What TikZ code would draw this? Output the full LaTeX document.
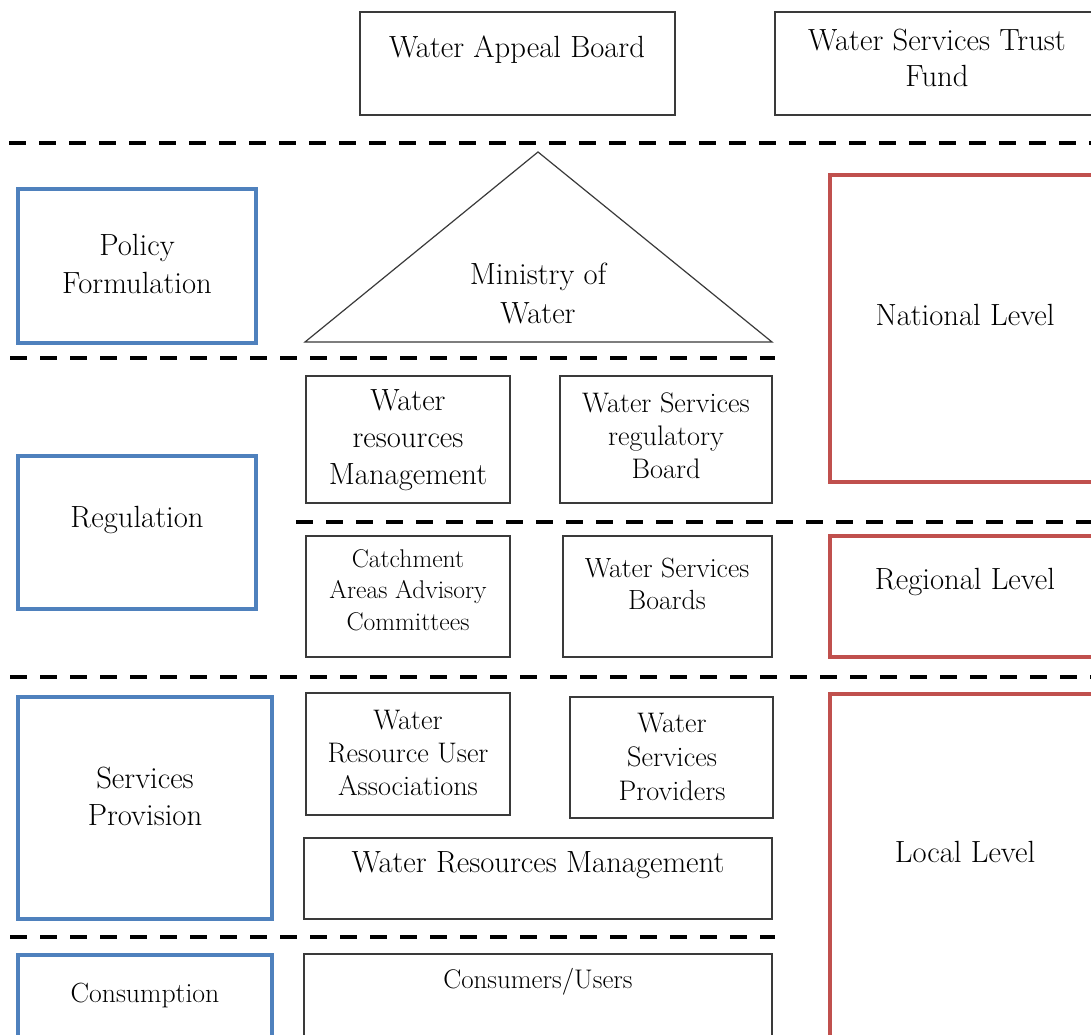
\documentclass[tikz,border=0pt]{standalone}
\usepackage{fontspec}
\usetikzlibrary{fit}
\definecolor{polblue}{HTML}{4F81BD}
\definecolor{lvlred}{HTML}{C0504D}
\definecolor{boxgray}{HTML}{3A3A3A}
\begin{document}
\begin{tikzpicture}[x=0.75pt,y=-0.75pt,
  gbox/.style={draw=boxgray,line width=1.1pt,inner sep=0pt,fit={#1}},
  bbox/.style={draw=polblue,line width=2.6pt,inner sep=0pt,fit={#1}},
  rbox/.style={draw=lvlred,line width=2.4pt,inner sep=0pt,fit={#1}},
  sep/.style={line width=2.7pt,dash pattern=on 12.75pt off 9.75pt},
  lbl/.style={inner sep=0pt,align=center,text=black},
  big/.style={lbl,font=\fontsize{23}{27.75}\selectfont},
  mid/.style={lbl,font=\fontsize{21.2}{25}\selectfont},
  small/.style={lbl,font=\fontsize{19.2}{23.6}\selectfont}]
\useasboundingbox[fill=white] (0,0) rectangle (1091,1034);

% top boxes
\node[gbox={(360,12) (675,115)}] (appeal) {};
\node[big] (appealT) at (517,50) {Water Appeal Board};
\node[gbox={(775,12) (1110,115)}] (trust) {};
\node[big,font=\fontsize{23}{27}\selectfont] (trustT) at (937,58) {Water Services Trust\\Fund};

% separators
\coordinate (s1a) at (9,143);   \coordinate (s1b) at (1091,143);
\coordinate (s2a) at (10,358);  \coordinate (s2b) at (775,358);
\coordinate (s3a) at (296,522); \coordinate (s3b) at (1091,522);
\coordinate (s4a) at (10,677);  \coordinate (s4b) at (1091,677);
\coordinate (s5a) at (10,937);  \coordinate (s5b) at (775,937);
\draw[sep] (s1a) -- (s1b);
\draw[sep] (s2a) -- (s2b);
\draw[sep] (s3a) -- (s3b);
\draw[sep] (s4a) -- (s4b);
\draw[sep] (s5a) -- (s5b);

% ministry triangle
\coordinate (apex) at (538,152);
\coordinate (baseR) at (772,342);
\coordinate (baseL) at (305,342);
\draw[boxgray,line width=0.9pt] (apex) -- (baseR) -- (baseL) -- cycle;
\node[big,font=\fontsize{23}{29.25}\selectfont] (minT) at (538,293) {Ministry of\\Water};

% functions (left column)
\node[bbox={(18,189) (256,343)}] (policy) {};
\node[big,font=\fontsize{23}{28.5}\selectfont] (policyT) at (137,264) {Policy\\Formulation};
\node[bbox={(18,456) (256,609)}] (regul) {};
\node[big] (regulT) at (137,520) {Regulation};
\node[bbox={(18,697) (272,919)}] (prov) {};
\node[big] (provT) at (145,796) {Services\\Provision};
\node[bbox={(18,955) (272,1050)}] (cons) {};
\node[lbl,font=\fontsize{20.8}{25}\selectfont] (consT) at (145,995) {Consumption};

% levels (right column)
\node[rbox={(830,175) (1110,482)}] (natl) {};
\node[big] (natlT) at (965,315) {National Level};
\node[rbox={(830,536) (1110,657)}] (regl) {};
\node[big] (reglT) at (965,582) {Regional Level};
\node[rbox={(830,694) (1110,1050)}] (locl) {};
\node[big] (loclT) at (965,852) {Local Level};

% institutions
\node[gbox={(306,376) (510,503)}] (wrm) {};
\node[big] (wrmT) at (408,440) {Water\\resources\\Management};
\node[gbox={(560,376) (772,503)}] (wsrb) {};
\node[mid,font=\fontsize{21.2}{24.75}\selectfont] (wsrbT) at (666,436) {Water Services\\regulatory\\Board};
\node[gbox={(306,536) (510,657)}] (caac) {};
\node[small] (caacT) at (408,590) {Catchment\\Areas Advisory\\Committees};
\node[gbox={(563,536) (772,657)}] (wsb) {};
\node[mid,font=\fontsize{20.8}{24}\selectfont] (wsbT) at (667,584) {Water Services\\Boards};
\node[gbox={(306,693) (510,815)}] (wrua) {};
\node[mid] (wruaT) at (408,753) {Water\\Resource User\\Associations};
\node[gbox={(570,697) (773,818)}] (wsp) {};
\node[mid,font=\fontsize{21.2}{25.5}\selectfont] (wspT) at (672,757) {Water\\Services\\Providers};
\node[gbox={(304,838) (772,919)}] (wrm2) {};
\node[big] (wrm2T) at (538,865) {Water Resources Management};
\node[gbox={(304,954) (772,1050)}] (users) {};
\node[lbl,font=\fontsize{20.2}{25}\selectfont] (usersT) at (538,982) {Consumers/Users};
\end{tikzpicture}
\end{document}
